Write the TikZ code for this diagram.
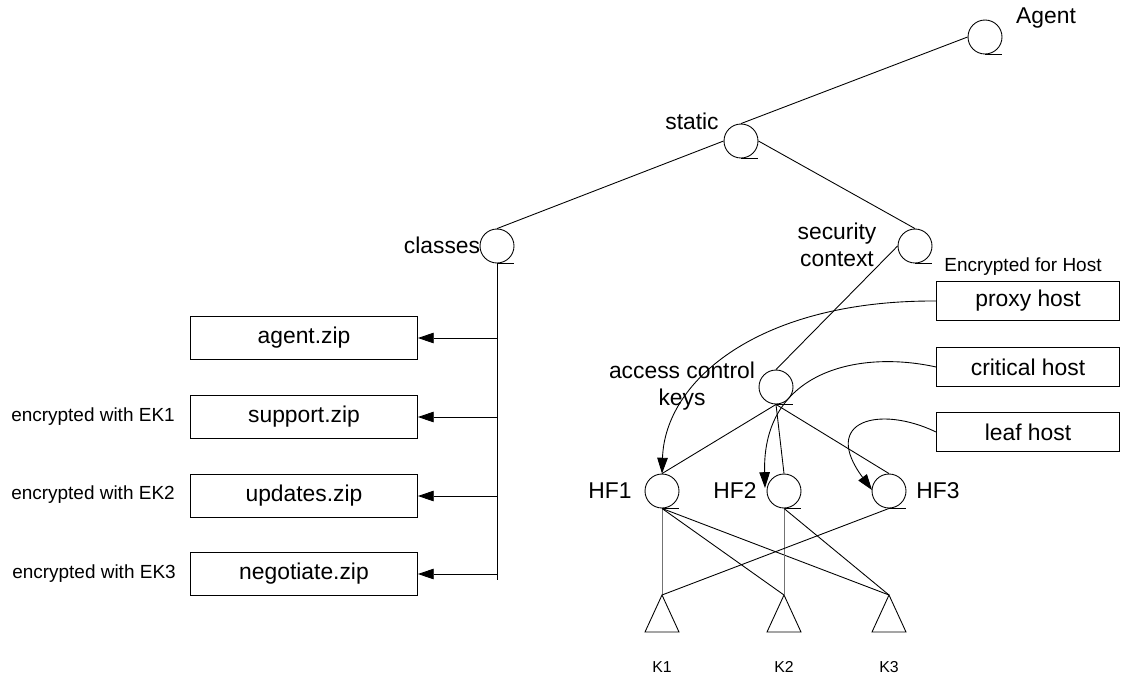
\documentclass[tikz,border=0pt]{standalone}
\usepackage{fontspec}
\setmainfont{Liberation Sans}
\usetikzlibrary{arrows.meta}

\begin{document}
\begin{tikzpicture}[x=0.02cm, y=-0.02cm, line width=0.5pt,
	every node/.style={font=\fontsize{13}{15}\selectfont},
	vert/.style={circle, draw, minimum size=0.68cm, inner sep=0pt},
	filebox/.style={rectangle, draw, minimum width=4.54cm, minimum height=0.86cm},
	hostbox/.style={rectangle, draw, minimum width=3.66cm, minimum height=0.78cm},
	note/.style={font=\fontsize{10.8}{12}\selectfont},
	keylabel/.style={font=\fontsize{9}{10}\selectfont},
	tip/.style={-{Triangle[length=9pt,width=6pt]}}]
	\useasboundingbox (0,0) rectangle (1125,677);

	% tree nodes
	\node[vert] (agent) at (985,37) {};
	\node[vert] (static) at (741,141) {};
	\node[vert] (classes) at (497,246) {};
	\node[vert] (secctx) at (915,246) {};
	\node[vert] (acckeys) at (776,387) {};
	\node[vert] (hf1) at (662,491) {};
	\node[vert] (hf2) at (784,491) {};
	\node[vert] (hf3) at (889,491) {};
	\foreach \n in {agent,static,classes,secctx,acckeys,hf1,hf2,hf3}
		\draw (\n.south) -- ++(17,0);

	% keys
	\foreach \k/\x in {k1/662,k2/784,k3/889} {
		\coordinate (\k) at (\x,595);
		\draw (\k) -- ++(-17,37) -- ++(34,0) -- cycle;
	}

	% files and hosts
	\node[filebox] (agentzip) at (304,338) {agent.zip};
	\node[filebox] (supportzip) at (304,417) {support.zip};
	\node[filebox] (updateszip) at (304,496) {updates.zip};
	\node[filebox] (negzip) at (304,574) {negotiate.zip};
	\node[hostbox] (proxy) at (1028,301) {proxy host};
	\node[hostbox] (critical) at (1028,367) {critical host};
	\node[hostbox] (leaf) at (1028,432) {leaf host};

	% lines
	\draw (agent.west) -- (static.north);
	\draw (static.west) -- (classes.north);
	\draw (static.east) -- (secctx.north);
	\draw (secctx.west) -- (acckeys.north);
	\draw (acckeys.south) -- (hf1.north);
	\draw (acckeys.south) -- (hf2.north);
	\draw (acckeys.south) -- (hf3.north);
	\draw[black!55] (hf1.south) -- (k1);
	\draw (hf1.south) -- (k2);
	\draw (hf1.south) -- (k3);
	\draw[black!55] (hf2.south) -- (k2);
	\draw (hf2.south) -- (k3);
	\draw (hf3.south) -- (k1);

	\coordinate (trunkend) at (497,580);
	\draw (classes.south) -- (trunkend);
	\foreach \f in {agentzip,supportzip,updateszip,negzip}
		\draw[tip] (\f.east -| classes.south) -- (\f.east);

	\draw[tip] (proxy.west) .. controls (760,300) and (665,380) .. (hf1.north);
	\draw[tip] (critical.west) .. controls (860,350) and (762,370) .. (765,488);
	\draw[tip] (leaf.west) .. controls (880,405) and (820,420) .. (872,490);

	% labels
	\node (lagent) at (1046,18) {Agent};
	\node (lstatic) at (692,121) {static};
	\node (lclasses) at (442,245) {classes};
	\node[align=center] (lsec) at (837,245) {security\\context};
	\node[align=center] (lacc) at (682,386) {access control\\keys};
	\node (lhf1) at (610,491) {HF1};
	\node (lhf2) at (735,491) {HF2};
	\node (lhf3) at (938,491) {HF3};
	\node[note] (lhost) at (1023,267) {Encrypted for Host};
	\node[note] (lek1) at (93,417) {encrypted with EK1};
	\node[note] (lek2) at (93,495) {encrypted with EK2};
	\node[note] (lek3) at (94,574) {encrypted with EK3};
	\node[keylabel] (lk1) at (662,667) {K1};
	\node[keylabel] (lk2) at (784,667) {K2};
	\node[keylabel] (lk3) at (889,667) {K3};

\end{tikzpicture}
\end{document}
